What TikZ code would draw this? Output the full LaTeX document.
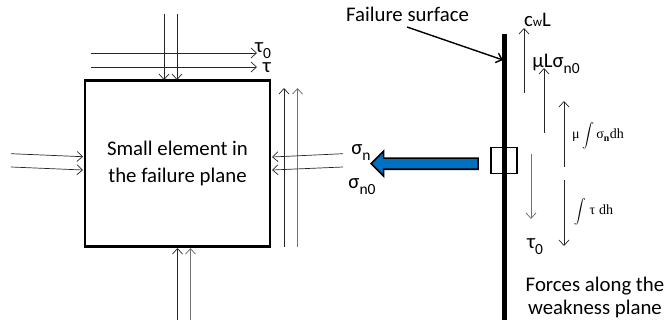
\documentclass[tikz,border=0pt]{standalone}
\usepackage{fontspec}
\setmainfont{Carlito}
\newfontfamily\eqfont{Liberation Serif}
\usepackage{xcolor}
\usetikzlibrary{arrows.meta,positioning,shapes.arrows}
\definecolor{pushblue}{HTML}{0070C0}
\newcommand{\lowsub}[1]{\smash{\raisebox{-0.25em}{\fontsize{15.5}{15.5}\selectfont #1}}}
\newcommand{\bigint}{\raisebox{-0.1em}{\scalebox{1.2}{$\displaystyle\int$}}}

\begin{document}
\begin{tikzpicture}[x=1pt,y=1pt,>={Straight Barb[length=5.5pt,width=10pt]},
elem/.style={rectangle,draw,line width=2.4pt,minimum width=185pt,minimum height=166pt,inner sep=0pt,align=center,font=\fontsize{20.8}{27}\selectfont},
force/.style={->,line width=0.7pt,black!85},
faint/.style={->,line width=0.8pt,black!55},
lab/.style={inner sep=0pt,font=\fontsize{20.8}{23}\selectfont},
eqn/.style={inner sep=0pt,font=\fontsize{14}{16}\selectfont\eqfont}]

\useasboundingbox (0,0) rectangle (666,325);

\node[elem] (elem) at (177.5,161.5) {Small element in\\the failure plane};

% stresses on the element
\coordinate (ta) at (164,311); \coordinate (tae) at (164,245);
\coordinate (tb) at (177,311); \coordinate (tbe) at (177,245);
\coordinate (sa) at (91,272); \coordinate (sae) at (257,272);
\coordinate (sb) at (91,258); \coordinate (sbe) at (257,258);
\coordinate (ua) at (284,78); \coordinate (uae) at (284,237);
\coordinate (ub) at (297.5,78); \coordinate (ube) at (297.5,237);
\coordinate (la) at (11,171.3); \coordinate (lae) at (83,168.3);
\coordinate (lb) at (11,158); \coordinate (lbe) at (83,155);
\coordinate (ra) at (343,171.3); \coordinate (rae) at (272,168);
\coordinate (rb) at (343,158); \coordinate (rbe) at (272,155);
\coordinate (ba) at (177.5,5); \coordinate (bae) at (177.5,77);
\coordinate (bb) at (190.5,5); \coordinate (bbe) at (190.5,77);

\draw[force] (ta)--(tae);
\draw[force] (tb)--(tbe);
\draw[force] (sa)--(sae);
\draw[force] (sb)--(sbe);
\draw[force] (ua)--(uae);
\draw[faint] (ub)--(ube);
\draw[force] (la)--(lae);
\draw[force] (lb)--(lbe);
\draw[force] (ra)--(rae);
\draw[force] (rb)--(rbe);
\draw[force] (ba)--(bae);
\draw[faint] (bb)--(bbe);

\node[lab] (t0) at (263,277) {τ\lowsub{0}};
\node[lab] (t1) at (267,257) {τ};
\node[lab] (sn) at (361,175) {σ\lowsub{n}};
\node[lab] (sn0) at (362,141) {σ\lowsub{n0}};

% failure surface
\coordinate (ftop) at (504.3,291);
\coordinate (fbot) at (504.3,5);
\draw[line width=4.5pt] (ftop)--(fbot);
\node[rectangle,draw,line width=1.7pt,minimum size=26pt,inner sep=0pt] (win) at (504.3,164.5) {};
\node[single arrow,draw,fill=pushblue,line width=1.6pt,shape border rotate=180,minimum height=107pt,text height=9.5pt,text depth=0pt,text width=0pt,single arrow head extend=7pt,single arrow head indent=0pt,inner sep=0pt,anchor=tip] (push) at (370,161.3) {};

\node[lab] (fs) at (407.5,311) {Failure surface};
\coordinate (fsa) at (407,298);
\coordinate (fsb) at (503,265);
\draw[->,line width=1.4pt] (fsa)--(fsb);

% forces along the plane
\coordinate (ca) at (524,232); \coordinate (cb) at (524,297);
\coordinate (ma) at (544,192); \coordinate (mb) at (544,257);
\coordinate (ia) at (564,158); \coordinate (ib) at (564,224);
\coordinate (da) at (531,171); \coordinate (db) at (531,106);
\coordinate (ea) at (564,145); \coordinate (eb) at (564,79);
\draw[force] (ca)--(cb);
\draw[force] (ma)--(mb);
\draw[force] (ia)--(ib);
\draw[faint] (da)--(db);
\draw[force] (ea)--(eb);

\node[lab] (cw) at (537.5,305) {c{\fontsize{13}{15}\selectfont w}L};
\node[lab] (ml) at (556,262) {μLσ\lowsub{n0}};
\node[eqn] (inta) at (598,189) {μ\,\bigint\,σ\textsubscript{\bfseries n}dh};
\node[eqn] (intb) at (593.5,113) {\bigint\;τ\;dh};
\node[lab] (t2) at (535,81) {τ\lowsub{0}};
\node[lab,align=center] (fa) at (595,28) {Forces along the\\weakness plane};
\end{tikzpicture}
\end{document}
